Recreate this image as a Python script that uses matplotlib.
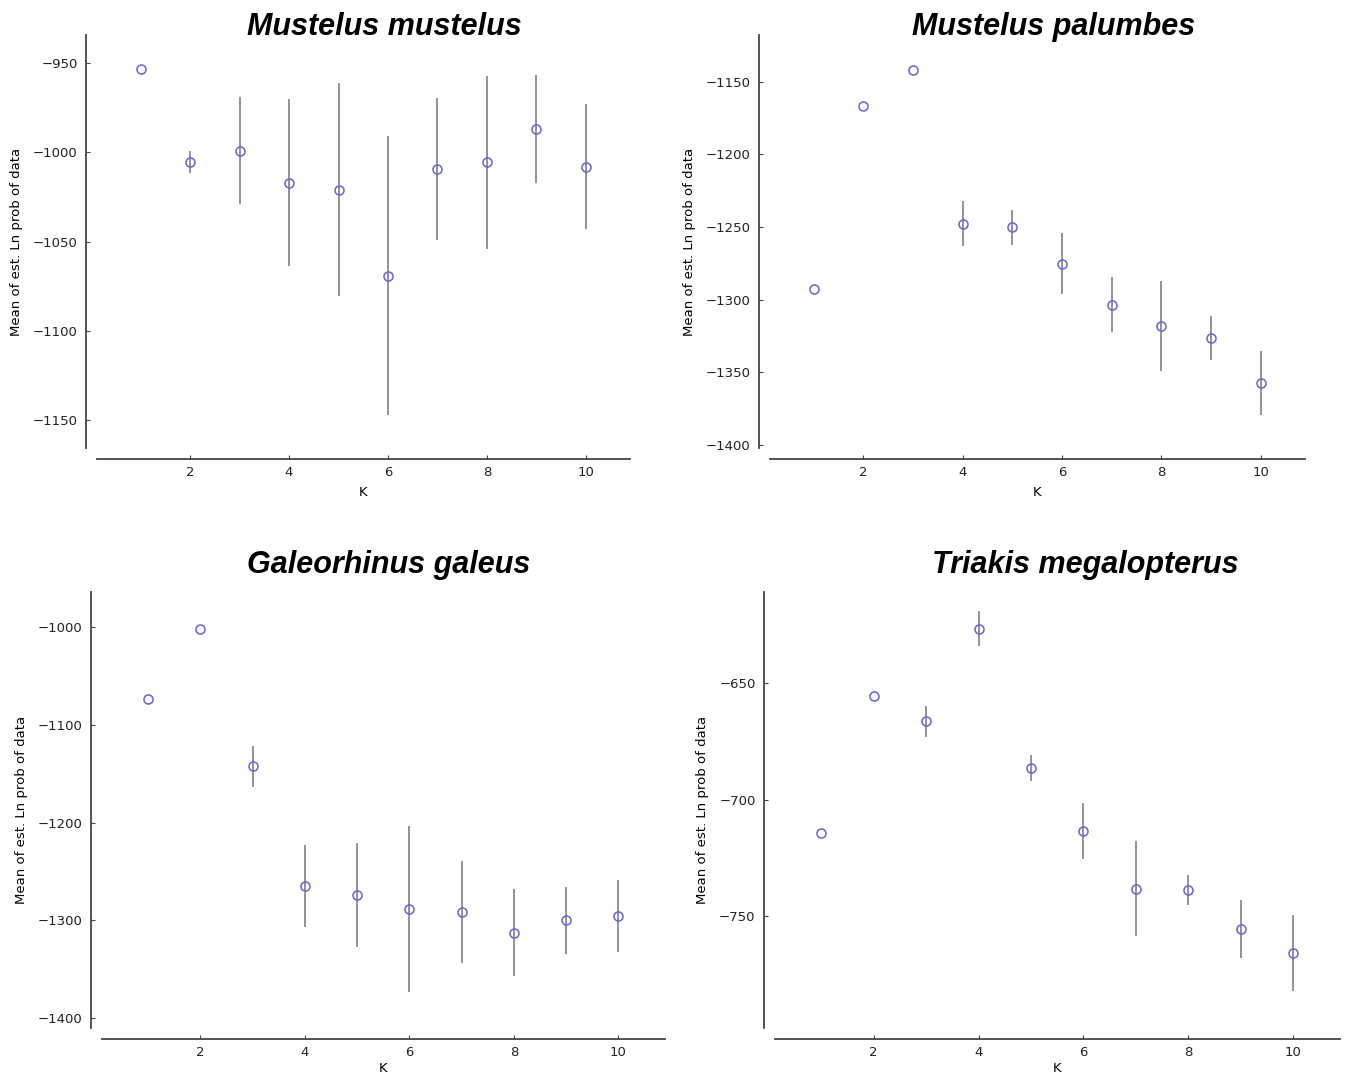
import matplotlib
matplotlib.use("Agg")
import matplotlib.pyplot as plt

# K values shared by all panels
k = [1, 2, 3, 4, 5, 6, 7, 8, 9, 10]

# Mustelus mustelus
mm_mean = [-953.2, -1005.1, -998.9, -1017.0, -1020.8, -1069.1, -1009.2, -1005.6, -986.9, -1007.9]
mm_sd = [0.0, 6.2, 29.8, 46.8, 59.7, 78.4, 39.8, 48.7, 30.2, 35.3]

# Mustelus palumbes
mp_mean = [-1292.9, -1166.5, -1142.0, -1247.9, -1250.2, -1275.2, -1303.4, -1318.3, -1326.4, -1357.3]
mp_sd = [0.0, 0.0, 0.0, 15.5, 12.0, 21.1, 18.9, 30.8, 14.9, 22.2]

# Galeorhinus galeus
gg_mean = [-1073.5, -1001.7, -1142.2, -1265.0, -1274.1, -1288.4, -1291.8, -1312.6, -1300.0, -1295.2]
gg_sd = [0.0, 0.0, 20.8, 41.7, 53.2, 85.2, 52.2, 44.6, 34.4, 37.1]

# Triakis megalopterus
tm_mean = [-714.5, -655.4, -666.5, -626.7, -686.4, -713.5, -738.3, -738.7, -755.5, -765.8]
tm_sd = [0.0, 0.0, 6.5, 7.5, 5.7, 12.1, 20.3, 6.4, 12.6, 16.2]

titles = ["Mustelus mustelus", "Mustelus palumbes", "Galeorhinus galeus", "Triakis megalopterus"]
means = [mm_mean, mp_mean, gg_mean, tm_mean]
sds = [mm_sd, mp_sd, gg_sd, tm_sd]
ylims = [(-1166, -934), (-1402, -1118), (-1410, -964), (-798, -611)]
yticks = [[-950, -1000, -1050, -1100, -1150],
          [-1150, -1200, -1250, -1300, -1350, -1400],
          [-1000, -1100, -1200, -1300, -1400],
          [-650, -700, -750]]

W, H = 1345, 1080
# axes boxes in pixels: left, right, top, bottom
boxes = [(97, 630, 35, 448), (770, 1305, 35, 448), (102, 665, 592, 1028), (775, 1340, 592, 1028)]
title_x = [0.54, 0.53, 0.51, 0.55]   # titles sit a bit right of centre
title_y = [1.0, 1.0, 1.044, 1.044]
xlabel_pad = [5, 5, 2, 2]

fig = plt.figure(figsize=(W / 100, H / 100), dpi=100)

for i in range(4):
    l, r, t, b = boxes[i]
    ax = fig.add_axes([l / W, 1 - b / H, (r - l) / W, (b - t) / H])
    ax.errorbar(k, means[i], yerr=sds[i], fmt="none", ecolor="#808080", elinewidth=1.2, capsize=0)
    ax.plot(k, means[i], "o", mfc="none", mec="#6464d4", mew=1.1, ms=6.5)
    ax.set_xlim(0.12, 10.89)
    ax.set_ylim(ylims[i])
    ax.set_xticks([2, 4, 6, 8, 10])
    ax.set_yticks(yticks[i])
    for s in ["top", "right"]:
        ax.spines[s].set_visible(False)
    for s in ["left", "bottom"]:
        ax.spines[s].set_position(("outward", 8))
        ax.spines[s].set_color("#444444")
        ax.spines[s].set_linewidth(1.3)
    ax.tick_params(direction="in", length=3, width=0.8, color="#444444", labelsize=9.5, labelcolor="#222222")
    ax.tick_params(axis="y", pad=6)
    ax.tick_params(axis="x", pad=5)
    ax.set_xlabel("K", fontsize=9.5, labelpad=xlabel_pad[i])
    ax.set_ylabel("Mean of est. Ln prob of data", fontsize=9.5, labelpad=7)
    ax.set_title(titles[i], fontsize=22, fontweight="bold", fontstyle="italic",
                 family="Liberation Sans", pad=0, x=title_x[i], y=title_y[i])

fig.savefig("out.png", dpi=100, facecolor="white")
